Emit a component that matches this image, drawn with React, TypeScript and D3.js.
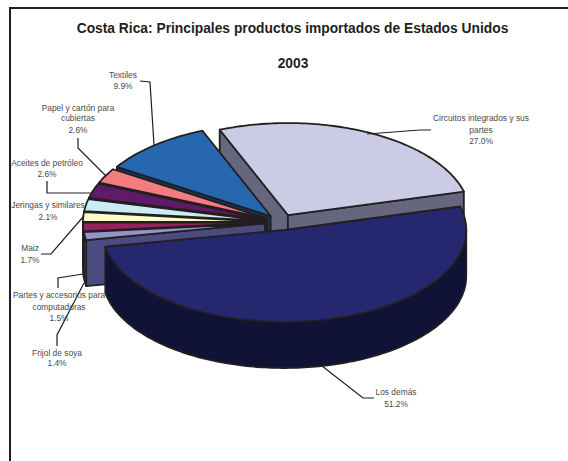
import React from "react";
import * as d3 from "d3";

const categories = [
  "Circuitos integrados y sus partes",
  "Los demás",
  "Frijol de soya",
  "Partes y accesorios para computadoras",
  "Maiz",
  "Jeringas y similares",
  "Aceites de petróleo",
  "Papel y cartón para cubiertas",
  "Textiles",
];
const shares = [27.0, 51.2, 1.4, 1.5, 1.7, 2.1, 2.6, 2.6, 9.9];
const topColors = ["#cccbe6", "#26286f", "#9594ca", "#96215f", "#fffacb", "#ccecf3", "#5f1a68", "#f47c7e", "#2767b0"];
const wallColors = ["#66667f", "#101236", "#4b4b80", "#4a1030", "#807d66", "#667679", "#300d34", "#7a3e3f", "#14345a"];

// Wrapped label lines, keyed by slice index
const labelLines = [
  ["Circuitos integrados y sus", "partes", "27.0%"],
  ["Los demás", "51.2%"],
  ["Frijol de soya", "1.4%"],
  ["Partes y accesorios para", "computadoras", "1.5%"],
  ["Maiz", "1.7%"],
  ["Jeringas y similares", "2.1%"],
  ["Aceites de petróleo", "2.6%"],
  ["Papel y cartón para", "cubiertas", "2.6%"],
  ["Textiles", "9.9%"],
];
const labelAnchors: [number, number[]][] = [
  [481, [121, 133, 144]],
  [396, [395, 407]],
  [57, [356, 366]],
  [59, [298, 310, 321]],
  [30, [251, 263]],
  [48, [208, 220]],
  [47, [166, 177]],
  [78, [111, 121, 133]],
  [123, [78, 89]],
];
const leaderPaths: [number, number][][] = [
  [[431, 130], [420, 130], [367, 134]],
  [[374, 398], [363, 398], [322, 366]],
  [[57, 346], [57, 335], [84, 283]],
  [[58, 288], [58, 278], [83, 274]],
  [[41, 254], [51, 254], [83, 217]],
  [],
  [[47, 181], [47, 193], [91, 193]],
  [[78, 138], [78, 148], [105, 175]],
  [[140, 81], [150, 82], [154, 145]],
];

const titleLines = ["Costa Rica: Principales productos importados de Estados Unidos", "2003"];

const WIDTH = 568;
const HEIGHT = 461;
const CX = 280.8;
const CY = 222.2;
const RX = 182;
const RY = 92;
const DEPTH = 46;
const EXPLODE = 0.087;
const OUTLINE = "#231f20";
const FIRST_ANGLE = (-22 * Math.PI) / 180;

type Pt = [number, number];

const pie = d3
  .pie<number>()
  .sort(null)
  .startAngle(FIRST_ANGLE)
  .endAngle(FIRST_ANGLE + 2 * Math.PI);

const outline = d3.line<Pt>();
const closed = (pts: Pt[]) => outline(pts) + "Z";

// Back-to-front paint order so nearer slices overlap farther ones
const paintOrder = [0, 8, 7, 6, 5, 4, 3, 2, 1];

function arcPoints(c: Pt, from: number, to: number): Pt[] {
  const steps = Math.max(2, Math.ceil(Math.abs(to - from) / 0.02));
  return d3.range(steps + 1).map((i) => {
    const a = from + ((to - from) * i) / steps;
    return [c[0] + RX * Math.sin(a), c[1] - RY * Math.cos(a)] as Pt;
  });
}

const drop = (pts: Pt[]): Pt[] => pts.map(([x, y]) => [x, y + DEPTH] as Pt);

function Slice({ index, start, end }: { index: number; start: number; end: number }) {
  const mid = (start + end) / 2;
  const c: Pt = [CX + EXPLODE * RX * Math.sin(mid), CY - EXPLODE * RY * Math.cos(mid)];
  const rim = arcPoints(c, start, end);
  const wall = wallColors[index];
  const faces: Pt[][] = [];

  if (Math.sin(start) < 0) {
    const edge: Pt[] = [c, rim[0]];
    faces.push([...edge, ...drop(edge).reverse()]);
  }
  if (Math.sin(end) > 0) {
    const edge: Pt[] = [c, rim[rim.length - 1]];
    faces.push([...edge, ...drop(edge).reverse()]);
  }
  // Outer rim is only visible on the half of the ellipse facing the viewer
  const frontFrom = Math.max(start, Math.PI / 2);
  const frontTo = Math.min(end, (3 * Math.PI) / 2);
  const wrapFrom = Math.max(start + 2 * Math.PI, Math.PI / 2);
  const wrapTo = Math.min(end + 2 * Math.PI, (3 * Math.PI) / 2);
  if (frontTo > frontFrom) {
    const front = arcPoints(c, frontFrom, frontTo);
    faces.push([...front, ...drop(front).reverse()]);
  } else if (wrapTo > wrapFrom) {
    const front = arcPoints(c, wrapFrom, wrapTo);
    faces.push([...front, ...drop(front).reverse()]);
  }

  return (
    <g stroke={OUTLINE} strokeWidth={1.8} strokeLinejoin="round">
      {faces.map((f, i) => (
        <path key={i} d={closed(f)} fill={wall} />
      ))}
      <path d={closed([c, ...rim])} fill={topColors[index]} />
    </g>
  );
}

export default function App() {
  const arcs = pie(shares);
  return (
    <svg
      width={WIDTH}
      height={HEIGHT}
      viewBox={`0 0 ${WIDTH} ${HEIGHT}`}
      style={{ position: "absolute", left: 0, top: 0, background: "#fff" }}
      fontFamily="'Liberation Sans', Arial, sans-serif"
    >
      <path d={outline([[10, HEIGHT], [10, 8], [WIDTH, 8]] as Pt[])!} fill="none" stroke={OUTLINE} strokeWidth={2} />

      <text x={292.5} y={33} textAnchor="middle" fontSize={13.8} fontWeight="bold" fill="#231f20">
        {titleLines[0]}
      </text>
      <text x={293} y={68} textAnchor="middle" fontSize={13.8} fontWeight="bold" fill="#231f20">
        {titleLines[1]}
      </text>

      {paintOrder.map((i) => (
        <Slice key={categories[i]} index={i} start={arcs[i].startAngle} end={arcs[i].endAngle} />
      ))}

      {leaderPaths.map((p, i) =>
        p.length ? <path key={i} d={outline(p)!} fill="none" stroke={OUTLINE} strokeWidth={1.2} /> : null
      )}

      {labelLines.map((lines, i) => (
        <text key={i} textAnchor="middle" fontSize={8.4} fill="#4a4a4c">
          {lines.map((line, j) => (
            <tspan key={j} x={labelAnchors[i][0]} y={labelAnchors[i][1][j]}>
              {line}
            </tspan>
          ))}
        </text>
      ))}
    </svg>
  );
}
